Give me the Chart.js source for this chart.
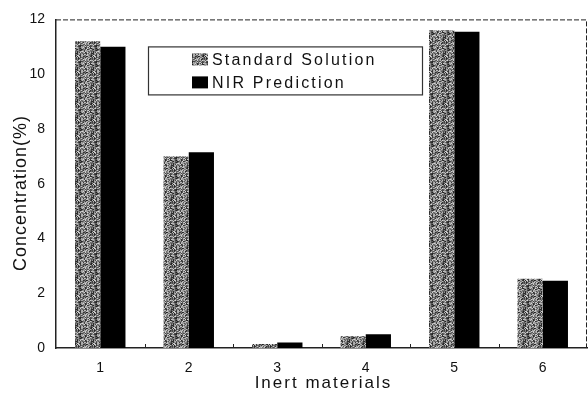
<!DOCTYPE html>
<html>
<head>
<meta charset="utf-8">
<script src="https://cdn.jsdelivr.net/npm/chart.js@4"></script>
<style>
  html, body { margin: 0; padding: 0; background: #fff; }
  #wrap { width: 588px; height: 396px; }
</style>
</head>
<body>
<div id="wrap"><canvas id="chart" width="588" height="396"></canvas></div>
<script>
const categories = ['1', '2', '3', '4', '5', '6'];
const standardSolution = [11.2, 7.0, 0.15, 0.43, 11.6, 2.53];
const nirPrediction = [11.0, 7.15, 0.2, 0.5, 11.55, 2.46];
const seriesNames = ['Standard Solution', 'NIR Prediction'];
const xTitle = 'Inert materials';
const yTitle = 'Concentration(%)';

const FONT = '"Liberation Sans", Arial, sans-serif';

// speckled gray fill like the scanned figure (fixed hashed tile, texture only)
function makeStipple() {
    const n = 16;
    const c = document.createElement('canvas');
    c.width = n; c.height = n;
    const g = c.getContext('2d');
    for (let y = 0; y < n; y++) {
        for (let x = 0; x < n; x++) {
            let h = (x * 374761393 + y * 668265263) | 0;
            h = Math.imul(h ^ (h >>> 13), 1274126177);
            h = (h ^ (h >>> 16)) >>> 0;
            const v = 30 + (h % 185);
            g.fillStyle = 'rgb(' + v + ',' + v + ',' + v + ')';
            g.fillRect(x, y, 1, 1);
        }
    }
    return g.createPattern(c, 'repeat');
}

const frame = {
    id: 'frame',
    afterDraw: function(chart) {
        const ctx = chart.ctx;
        const a = chart.chartArea;
        ctx.save();
        ctx.strokeStyle = '#222';
        ctx.lineWidth = 1;
        // top and right dashed
        ctx.setLineDash([5, 2]);
        ctx.beginPath();
        ctx.moveTo(a.left, a.top + 0.5);
        ctx.lineTo(a.right - 0.5, a.top + 0.5);
        ctx.lineTo(a.right - 0.5, a.bottom);
        ctx.stroke();
        ctx.setLineDash([]);
        // inward ticks between categories
        const xs = chart.scales.x;
        ctx.beginPath();
        for (let i = 1; i < categories.length; i++) {
            const x = Math.round((xs.getPixelForValue(i - 1) + xs.getPixelForValue(i)) / 2) + 0.5;
            ctx.moveTo(x, a.bottom);
            ctx.lineTo(x, a.bottom - 4);
        }
        ctx.stroke();

        // legend box
        const lx = a.left + 92, ly = a.top + 27, lw = 274, lh = 48;
        ctx.lineWidth = 1.2;
        ctx.strokeStyle = '#333';
        ctx.strokeRect(lx + 0.5, ly + 0.5, lw, lh);
        ctx.font = '16px ' + FONT;
        ctx.letterSpacing = '2.2px';
        ctx.textBaseline = 'middle';
        chart.data.datasets.forEach(function(ds, i) {
            const y = ly + 13 + i * 23;
            ctx.fillStyle = ds.backgroundColor;
            ctx.fillRect(lx + 44, y - 6, 16, 12);
            ctx.fillStyle = '#111';
            ctx.fillText(ds.label, lx + 64, y + 1);
        });

        // axis titles
        ctx.fillStyle = '#111';
        ctx.textAlign = 'center';
        ctx.font = '17px ' + FONT;
        ctx.letterSpacing = '2px';
        ctx.fillText(xTitle, (a.left + a.right) / 2 + 2, 383);
        ctx.translate(21, 193);
        ctx.rotate(-Math.PI / 2);
        ctx.font = '18px ' + FONT;
        ctx.letterSpacing = '1px';
        ctx.fillText(yTitle, 0, 0);
        ctx.restore();
    }
};

const ctx = document.getElementById('chart').getContext('2d');
new Chart(ctx, {
    type: 'bar',
    data: {
        labels: categories,
        datasets: [
            { label: seriesNames[0], data: standardSolution, backgroundColor: makeStipple(), borderWidth: 0 },
            { label: seriesNames[1], data: nirPrediction, backgroundColor: '#000', borderWidth: 0 }
        ]
    },
    options: {
        responsive: false,
        animation: false,
        layout: { padding: { top: 16, right: 1, left: 0, bottom: 0 } },
        categoryPercentage: 0.57,
        barPercentage: 1.0,
        plugins: {
            legend: { display: false },
            tooltip: { enabled: false }
        },
        scales: {
            x: {
                grid: { display: false, drawTicks: false },
                border: { display: true, color: '#222', width: 1.5 },
                ticks: { color: '#111', font: { family: FONT, size: 14 }, padding: 12 },
                afterFit: function(scale) { scale.height = 48; }
            },
            y: {
                min: 0,
                max: 12,
                ticks: { stepSize: 2, color: '#111', font: { family: FONT, size: 14 }, padding: 11 },
                grid: { display: false, drawTicks: false },
                border: { display: true, color: '#222', width: 1.5 },
                afterFit: function(scale) { scale.width = 56; }
            }
        }
    },
    plugins: [frame]
});
</script>
</body>
</html>
